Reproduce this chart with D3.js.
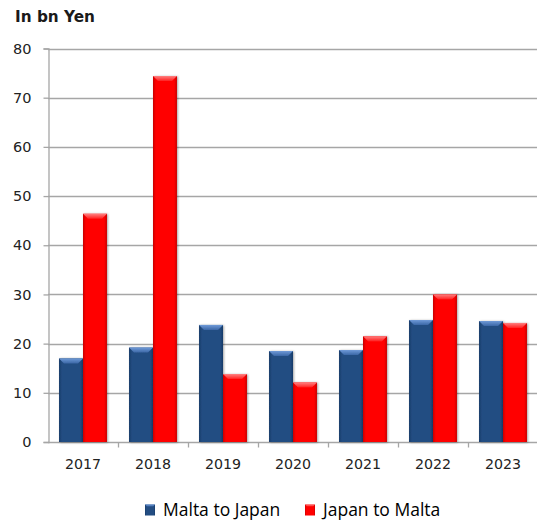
<!DOCTYPE html>
<html>
<head>
<meta charset="utf-8">
<script src="https://cdn.jsdelivr.net/npm/d3@7"></script>
<style>
  html, body { margin: 0; padding: 0; background: #fff; }
  svg { display: block; }
</style>
</head>
<body>
<svg id="chart" width="537" height="522"></svg>
<script>
// Trade values between Malta and Japan, in billions of yen
const years = ["2017", "2018", "2019", "2020", "2021", "2022", "2023"];
const maltaToJapan = [17.0, 19.2, 23.8, 18.5, 18.7, 24.8, 24.6];
const japanToMalta = [46.4, 74.4, 13.8, 12.1, 21.5, 30.0, 24.2];
const seriesNames = ["Malta to Japan", "Japan to Malta"];
const yTicks = [0, 10, 20, 30, 40, 50, 60, 70, 80];

const svg = d3.select("#chart");
const margin = { left: 48, right: -1, top: 48.5, bottom: 80 };
const W = 537, H = 522;
const axisFont = "DejaVu Sans, Verdana, sans-serif";

const x = d3.scaleBand().domain(years).range([margin.left, W - margin.right]).paddingInner(0).paddingOuter(0);
const inner = d3.scaleBand().domain(seriesNames).range([0, x.bandwidth()]).paddingInner(0).paddingOuter(0.46);
const y = d3.scaleLinear().domain([0, 80]).range([442, margin.top]);

const defs = svg.append("defs");
function barGradient(id, edge, mid) {
  const g = defs.append("linearGradient").attr("id", id).attr("x1", 0).attr("x2", 1).attr("y1", 0).attr("y2", 0);
  g.append("stop").attr("offset", "0%").attr("stop-color", edge);
  g.append("stop").attr("offset", "12%").attr("stop-color", mid);
  g.append("stop").attr("offset", "88%").attr("stop-color", mid);
  g.append("stop").attr("offset", "100%").attr("stop-color", edge);
}
barGradient("gBlue", "#173a68", "#234d82");
barGradient("gRed", "#c80000", "#ff0000");
function capGradient(id, top, bottom) {
  const g = defs.append("linearGradient").attr("id", id).attr("x1", 0).attr("x2", 0).attr("y1", 0).attr("y2", 1);
  g.append("stop").attr("offset", "0%").attr("stop-color", top);
  g.append("stop").attr("offset", "100%").attr("stop-color", bottom);
}
capGradient("cBlue", "#6f9ad8", "#3b67a6");
capGradient("cRed", "#ff8080", "#ff2020");
const shadow = defs.append("filter").attr("id", "shadow").attr("x", "-30%").attr("y", "-10%").attr("width", "160%").attr("height", "130%");
shadow.append("feDropShadow").attr("dx", 1).attr("dy", 0.5).attr("stdDeviation", 1.2).attr("flood-color", "#000").attr("flood-opacity", 0.35);

// Gridlines
svg.append("g")
  .selectAll("line")
  .data(yTicks.filter(d => d > 0))
  .join("line")
  .attr("x1", margin.left).attr("x2", W)
  .attr("y1", d => Math.round(y(d)) + 0.5).attr("y2", d => Math.round(y(d)) + 0.5)
  .attr("stroke", "#a6a6a6").attr("stroke-width", 1.3);

// Y axis
const yAxis = svg.append("g")
  .attr("transform", `translate(${margin.left + 0.5},0)`)
  .call(d3.axisLeft(y).tickValues(yTicks).tickSize(5).tickPadding(12).tickFormat(d3.format("d")));
yAxis.select(".domain").attr("stroke", "#a6a6a6").attr("stroke-width", 1.3);
yAxis.selectAll(".tick line").attr("stroke", "#a6a6a6").attr("stroke-width", 1.3);
yAxis.selectAll(".tick text").attr("fill", "#222").attr("font-family", axisFont).attr("font-size", 14.5);

// X axis
const xAxis = svg.append("g")
  .attr("transform", `translate(0,${Math.round(y(0)) + 0.5})`)
  .call(d3.axisBottom(x).tickSize(0).tickPadding(16));
xAxis.select(".domain").remove();
xAxis.append("line").attr("x1", margin.left).attr("x2", W).attr("stroke", "#a6a6a6").attr("stroke-width", 1.3);
xAxis.selectAll(".tick text").attr("fill", "#222").attr("font-family", axisFont).attr("font-size", 14.2);
xAxis.selectAll(".boundary")
  .data(years.slice(1))
  .join("line")
  .attr("x1", d => Math.round(x(d)) + 0.5).attr("x2", d => Math.round(x(d)) + 0.5)
  .attr("y1", 0).attr("y2", 5)
  .attr("stroke", "#a6a6a6").attr("stroke-width", 1.3);

// Bars
const rows = years.map((yr, i) => ({ year: yr, values: [maltaToJapan[i], japanToMalta[i]] }));
const fills = ["url(#gBlue)", "url(#gRed)"];
const caps = ["url(#cBlue)", "url(#cRed)"];
const groups = svg.append("g").selectAll("g")
  .data(rows)
  .join("g")
  .attr("transform", d => `translate(${x(d.year)},0)`);

const bars = groups.selectAll("g")
  .data(d => d.values.map((v, k) => ({ v, k, name: seriesNames[k] })))
  .join("g")
  .attr("filter", "url(#shadow)");

bars.append("rect")
  .attr("x", d => inner(d.name))
  .attr("width", inner.bandwidth())
  .attr("y", d => y(d.v))
  .attr("height", d => y(0) - y(d.v))
  .attr("fill", d => fills[d.k]);

// Bevelled top cap
bars.append("path")
  .attr("d", d => {
    const x0 = inner(d.name), x1 = x0 + inner.bandwidth(), t = y(d.v), b = 5;
    return `M${x0},${t}L${x1},${t}L${x1 - b},${t + b}L${x0 + b},${t + b}Z`;
  })
  .attr("fill", d => caps[d.k]);

// Title
svg.append("text")
  .attr("x", 15).attr("y", 22)
  .attr("font-family", axisFont)
  .attr("font-weight", "bold").attr("font-size", 15.3)
  .attr("fill", "#1a1a1a")
  .text("In bn Yen");

// Legend
const legend = svg.append("g").attr("transform", "translate(145,510)");
const legendX = [0, 160];
const legendItems = legend.selectAll("g")
  .data(seriesNames)
  .join("g")
  .attr("transform", (d, i) => `translate(${legendX[i]},0)`);
legendItems.append("rect")
  .attr("x", 0).attr("y", -5.5).attr("width", 10).attr("height", 11)
  .attr("fill", (d, i) => fills[i]);
legendItems.append("path")
  .attr("d", "M0,-5.5L10,-5.5L8,-3.5L2,-3.5Z")
  .attr("fill", (d, i) => caps[i]);
legendItems.append("text")
  .attr("x", 18).attr("y", 0).attr("dy", "0.36em")
  .attr("font-family", "Open Sans, Liberation Sans, sans-serif")
  .attr("font-size", 17.5)
  .attr("fill", "#000")
  .text(d => d);
</script>
</body>
</html>
